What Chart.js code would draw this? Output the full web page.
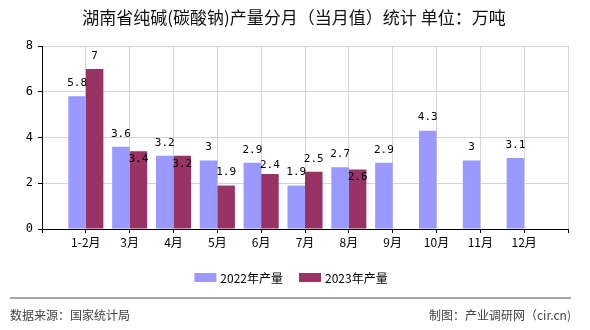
<!DOCTYPE html>
<html lang="zh">
<head>
<meta charset="utf-8" />
<title>湖南省纯碱(碳酸钠)产量分月（当月值）统计</title>
<script src="https://cdn.jsdelivr.net/npm/chart.js"></script>
<style>
  html, body { margin: 0; padding: 0; background: #fff; }
</style>
</head>
<body>
<canvas id="chart" width="590" height="330" style="width:590px;height:330px;display:block"></canvas>
<script>
// data
var months = ['1-2月', '3月', '4月', '5月', '6月', '7月', '8月', '9月', '10月', '11月', '12月'];
var output2022 = [5.8, 3.6, 3.2, 3, 2.9, 1.9, 2.7, 2.9, 4.3, 3, 3.1];
var output2023 = [7, 3.4, 3.2, 1.9, 2.4, 2.5, 2.6, null, null, null, null];
var yTicks = [0, 2, 4, 6, 8];

var titleText = '湖南省纯碱(碳酸钠)产量分月（当月值）统计 单位：万吨';
var sourceText = '数据来源：国家统计局';
var creditText = '制图：产业调研网（cir.cn)';

var cjk = '"Noto Sans CJK SC", "DejaVu Sans", sans-serif';
var mono = '"DejaVu Sans Mono", "Liberation Mono", monospace';

// one empty slot on each side so the months sit on the grid lines
var labels = [''].concat(months, ['']);
function pad(arr) { return [null].concat(arr, [null]); }

// title, legend and footer
var decorPlugin = {
    id: 'decor',
    afterDraw: function (chart) {
        var ctx = chart.ctx;
        ctx.save();
        ctx.fillStyle = '#111';
        ctx.font = '17px ' + cjk;
        ctx.textAlign = 'center';
        ctx.textBaseline = 'middle';
        ctx.fillText(titleText, 294, 18);

        // legend
        ctx.font = '12px ' + cjk;
        var items = chart.data.datasets;
        var widths = items.map(function (d) { return ctx.measureText(d.label).width; });
        var total = 0;
        widths.forEach(function (w, i) { total += 22 + 4 + w + (i ? 16 : 0); });
        var x = 291 - total / 2;
        ctx.textAlign = 'left';
        items.forEach(function (d, i) {
            ctx.fillStyle = d.backgroundColor;
            ctx.fillRect(x, 273, 22, 9);
            ctx.fillStyle = '#000';
            ctx.fillText(d.label, x + 26, 278);
            x += 26 + widths[i] + 16;
        });

        // footer
        ctx.strokeStyle = '#888';
        ctx.lineWidth = 1.5;
        ctx.beginPath();
        ctx.moveTo(10, 298);
        ctx.lineTo(571, 298);
        ctx.stroke();
        ctx.fillStyle = '#444';
        ctx.font = '12px ' + cjk;
        ctx.textAlign = 'left';
        ctx.fillText(sourceText, 10, 315);
        ctx.textAlign = 'right';
        ctx.fillText(creditText, 571, 315);
        ctx.restore();
    }
};

// value labels above bars; 2023 labels move down when they hit the 2022 ones
var valuePlugin = {
    id: 'values',
    afterDatasetsDraw: function (chart) {
        var ctx = chart.ctx;
        ctx.save();
        ctx.font = '11px ' + mono;
        ctx.fillStyle = '#000';
        ctx.textAlign = 'center';
        ctx.textBaseline = 'middle';
        var first = chart.getDatasetMeta(0).data;
        chart.data.datasets.forEach(function (ds, di) {
            var meta = chart.getDatasetMeta(di);
            meta.data.forEach(function (el, i) {
                var v = ds.data[i];
                if (v === null || v === undefined) return;
                var y = el.y - 13;
                if (di === 1 && first[i] && chart.data.datasets[0].data[i] !== null) {
                    var y0 = first[i].y - 13;
                    if (Math.abs(y - y0) < 12) {
                        if (y0 + 15 <= el.y - 6) y = y0 + 15;
                        else y = el.y + 8;
                    }
                }
                ctx.fillText(String(v), el.x, y);
            });
        });
        ctx.restore();
    }
};

new Chart(document.getElementById('chart'), {
    type: 'bar',
    data: {
        labels: labels,
        datasets: [
            { label: '2022年产量', data: pad(output2022), backgroundColor: '#9999ff' },
            { label: '2023年产量', data: pad(output2023), backgroundColor: '#993366' }
        ]
    },
    options: {
        responsive: false,
        animation: false,
        layout: { padding: { top: 46, right: 22, bottom: 70, left: 0 } },
        categoryPercentage: 0.8,
        barPercentage: 1.0,
        plugins: {
            legend: { display: false },
            title: { display: false },
            tooltip: { enabled: false }
        },
        scales: {
            x: {
                offset: false,
                grid: { offset: false, color: '#d4d4d4', tickColor: '#000', tickLength: 4 },
                border: { color: '#000', width: 1 },
                ticks: {
                    color: '#000',
                    font: { family: cjk, size: 12 },
                    padding: 2,
                    autoSkip: false,
                    maxRotation: 0
                },
                afterFit: function (scale) { scale.height = 31; }
            },
            y: {
                min: 0,
                max: 8,
                grid: { color: '#d4d4d4', tickColor: '#000', tickLength: 4 },
                border: { color: '#000', width: 1 },
                afterBuildTicks: function (scale) {
                    scale.ticks = yTicks.map(function (v) { return { value: v }; });
                },
                ticks: {
                    color: '#000',
                    font: { family: mono, size: 12 },
                    padding: 5
                },
                afterFit: function (scale) { scale.width = 42; }
            }
        }
    },
    plugins: [decorPlugin, valuePlugin]
});
</script>
</body>
</html>
